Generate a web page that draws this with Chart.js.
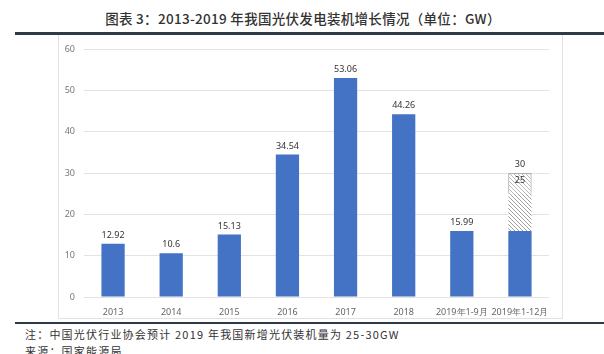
<!DOCTYPE html>
<html>
<head>
<meta charset="utf-8">
<script src="https://cdn.jsdelivr.net/npm/chart.js@4"></script>
<style>
  body { margin: 0; background: #fff; width: 604px; height: 354px; overflow: hidden; position: relative; font-family: "Noto Sans CJK SC", sans-serif; }
  #title { position: absolute; left: 0; width: 606px; top: 8px; text-align: center; font-size: 13.5px; font-weight: 500; color: #333; letter-spacing: 0.3px; }
  #topline { position: absolute; left: 15px; right: 0; top: 32px; height: 3px; background: #2e3a4b; }
  #box { position: absolute; left: 58px; top: 35px; width: 503px; height: 283px; border: 1px solid #e2e2e2; border-top: none; }
  #botline { position: absolute; left: 15px; right: 0; top: 322px; height: 2px; background: #2e3a4b; }
  .note { position: absolute; left: 25px; font-size: 11px; color: #333; letter-spacing: 1.2px; white-space: nowrap; }
</style>
</head>
<body>
<div id="title">图表 3：2013-2019 年我国光伏发电装机增长情况（单位：GW）</div>
<div id="topline"></div>
<div id="box"><canvas id="c" width="503" height="283"></canvas></div>
<div id="botline"></div>
<div class="note" style="top:326px">注：中国光伏行业协会预计 2019 年我国新增光伏装机量为 25-30GW</div>
<div class="note" style="top:343px">来源：国家能源局</div>
<script>
const categories = ['2013', '2014', '2015', '2016', '2017', '2018', '2019年1-9月', '2019年1-12月'];
const installed = [12.92, 10.6, 15.13, 34.54, 53.06, 44.26, 15.99, 15.99];
const forecastLow = 25;
const forecastHigh = 30;
const yTicks = [0, 10, 20, 30, 40, 50, 60];

const last = categories.length - 1;
const toLow = categories.map((c, i) => i == last ? forecastLow - installed[i] : null);
const toHigh = categories.map((c, i) => i == last ? forecastHigh - forecastLow : null);

function hatch(color) {
    const p = document.createElement('canvas');
    p.width = 4; p.height = 4;
    const g = p.getContext('2d');
    g.fillStyle = '#fff';
    g.fillRect(0, 0, 4, 4);
    g.strokeStyle = color;
    g.lineWidth = 1;
    g.beginPath();
    g.moveTo(0, 0); g.lineTo(4, 4);
    g.moveTo(-1, 3); g.lineTo(1, 5);
    g.moveTo(3, -1); g.lineTo(5, 1);
    g.stroke();
    return g.createPattern(p, 'repeat');
}

const ctx = document.getElementById('c').getContext('2d');

const labelPlugin = {
    id: 'labels',
    afterDatasetsDraw(chart) {
        const c = chart.ctx;
        c.save();
        c.font = '9px "Noto Sans", sans-serif';
        c.fillStyle = '#333';
        c.textAlign = 'center';
        c.textBaseline = 'bottom';
        chart.getDatasetMeta(0).data.forEach((bar, i) => {
            if (i == last) return;
            c.fillText(String(installed[i]), bar.x, bar.y - 4);
        });
        const top = chart.getDatasetMeta(2).data[last];
        c.fillText(String(forecastHigh), top.x, top.y - 4);
        c.textBaseline = 'top';
        c.fillText(String(forecastLow), top.x, top.y + 3);
        c.restore();
    }
};

new Chart(ctx, {
    type: 'bar',
    data: {
        labels: categories,
        datasets: [
            { data: installed, backgroundColor: '#4472C4', barPercentage: 0.4, categoryPercentage: 1 },
            { data: toLow, backgroundColor: hatch('#a0a0a0'), barPercentage: 0.4, categoryPercentage: 1 },
            { data: toHigh, backgroundColor: hatch('#b8b8b8'), borderColor: '#888', borderWidth: 1,
              borderDash: [1, 1], barPercentage: 0.4, categoryPercentage: 1 }
        ]
    },
    options: {
        responsive: false,
        animation: false,
        layout: { padding: { left: 0, right: 13, top: 12, bottom: 0 } },
        plugins: { legend: { display: false }, tooltip: { enabled: false } },
        scales: {
            x: {
                stacked: true,
                grid: { display: false },
                border: { display: false },
                ticks: { color: '#666', font: { size: 9, family: 'Noto Sans' }, maxRotation: 0, autoSkip: false, padding: 2 },
                afterFit: (axis) => { axis.height = 21; }
            },
            y: {
                stacked: true,
                min: 0, max: 60,
                afterBuildTicks: (axis) => { axis.ticks = yTicks.map(v => ({ value: v })); },
                grid: { color: '#e3e3e3', drawTicks: false },
                border: { display: false },
                ticks: { color: '#777', font: { size: 9, family: 'Noto Sans' }, padding: 9 },
                afterFit: (axis) => { axis.width = 25; }
            }
        }
    },
    plugins: [labelPlugin]
});
</script>
</body>
</html>
